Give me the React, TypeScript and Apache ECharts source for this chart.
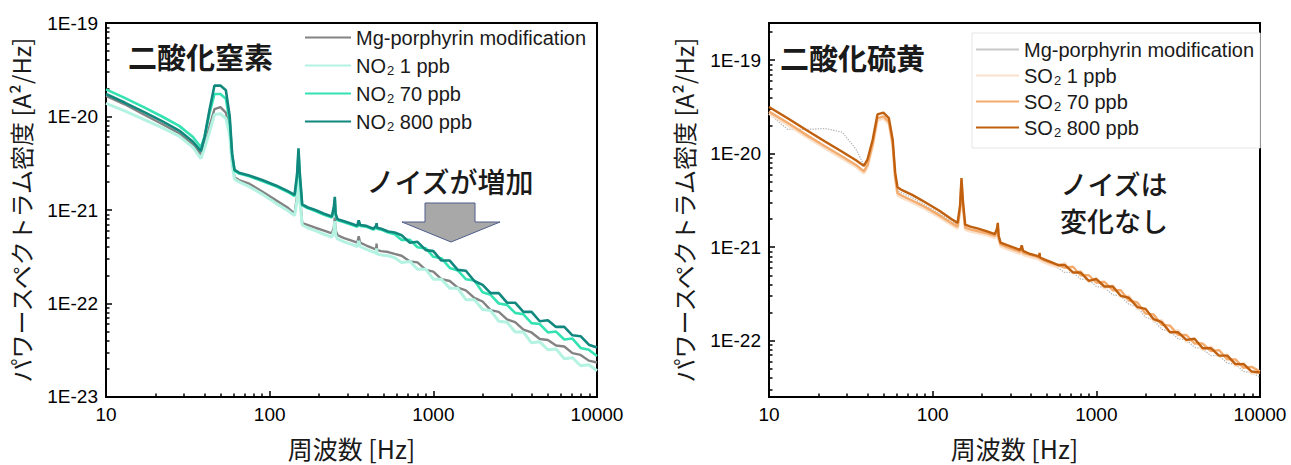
import React, { useEffect, useRef } from 'react';
import * as echarts from 'echarts';

// Frequency grid (Hz), shared by every series
const FREQ_HZ = [
  10, 13, 17, 22, 28, 34, 38, 40, 43, 46,
  50, 54, 57, 59, 61, 65, 75, 90, 110, 130,
  142, 147, 150, 153, 158, 170, 190, 215, 240, 247,
  250, 253, 260, 285, 320, 343, 350, 357, 390, 430,
  447, 450, 453, 480, 530, 580,
  640, 720, 800, 900, 1000, 1120, 1260, 1410, 1580, 1780,
  2000, 2240, 2510, 2820, 3160, 3550, 3980, 4470, 5010, 5620,
  6310, 7080, 7940, 8910, 10000,
];

// ---- Left chart: 二酸化窒素 (PSD, A^2/Hz) ----
const MG_LEFT = [
  1.66e-20, 1.35e-20, 1.05e-20, 8.32e-21, 6.61e-21, 5.01e-21, 3.89e-21, 5.01e-21, 7.94e-21, 1.2e-20,
  1.26e-20, 1.1e-20, 7.08e-21, 3.16e-21, 2.24e-21, 2.09e-21, 1.91e-21, 1.58e-21, 1.26e-21, 1.05e-21,
  9.12e-22, 1.41e-21, 2.63e-21, 1.41e-21, 7.24e-22, 6.92e-22, 6.46e-22, 6.03e-22, 5.62e-22, 6.61e-22,
  8.32e-22, 6.03e-22, 5.37e-22, 5.01e-22, 4.68e-22, 4.47e-22, 5.25e-22, 4.47e-22, 4.17e-22, 3.89e-22,
  3.8e-22, 4.37e-22, 3.72e-22, 3.63e-22, 3.55e-22, 3.39e-22,
  3.24e-22, 2.82e-22, 2.75e-22, 2.29e-22, 2.19e-22, 1.82e-22, 1.74e-22, 1.48e-22, 1.38e-22, 1.15e-22,
  1.05e-22, 8.51e-23, 8.13e-23, 6.76e-23, 6.31e-23, 5.25e-23, 4.9e-23, 4.17e-23, 4.07e-23, 3.55e-23,
  3.47e-23, 2.95e-23, 2.82e-23, 2.45e-23, 2.34e-23,
];
const NO2_1PPB = [
  1.38e-20, 1.15e-20, 9.33e-21, 7.59e-21, 6.17e-21, 4.68e-21, 3.55e-21, 4.57e-21, 6.92e-21, 1.05e-20,
  1.07e-20, 9.55e-21, 6.31e-21, 3.02e-21, 2.14e-21, 2.0e-21, 1.78e-21, 1.48e-21, 1.17e-21, 9.77e-22,
  8.71e-22, 1.26e-21, 2.19e-21, 1.26e-21, 6.92e-22, 6.46e-22, 6.03e-22, 5.5e-22, 5.13e-22, 6.03e-22,
  7.59e-22, 5.37e-22, 4.9e-22, 4.57e-22, 4.27e-22, 4.07e-22, 4.68e-22, 4.07e-22, 3.8e-22, 3.55e-22,
  3.47e-22, 3.89e-22, 3.39e-22, 3.31e-22, 3.24e-22, 3.09e-22,
  2.75e-22, 2.82e-22, 2.32e-22, 2.32e-22, 1.82e-22, 1.82e-22, 1.46e-22, 1.46e-22, 1.1e-22, 1.1e-22,
  8.61e-23, 8.41e-23, 6.46e-23, 6.31e-23, 4.95e-23, 4.95e-23, 3.8e-23, 3.89e-23, 3.2e-23, 3.27e-23,
  2.57e-23, 2.63e-23, 2.16e-23, 2.21e-23, 1.91e-23,
];
const NO2_70PPB = [
  1.95e-20, 1.58e-20, 1.26e-20, 1.0e-20, 7.94e-21, 6.03e-21, 4.68e-21, 6.03e-21, 1.1e-20, 1.74e-20,
  1.74e-20, 1.55e-20, 8.91e-21, 3.8e-21, 2.63e-21, 2.45e-21, 2.29e-21, 2.04e-21, 1.78e-21, 1.55e-21,
  1.41e-21, 2.24e-21, 3.98e-21, 2.19e-21, 1.12e-21, 1.05e-21, 9.77e-22, 8.91e-22, 8.32e-22, 1.05e-21,
  1.29e-21, 8.71e-22, 7.76e-22, 7.41e-22, 6.92e-22, 6.61e-22, 7.41e-22, 6.76e-22, 6.61e-22, 6.17e-22,
  6.46e-22, 6.92e-22, 6.31e-22, 6.17e-22, 5.75e-22, 5.5e-22,
  4.79e-22, 4.79e-22, 4.0e-22, 3.89e-22, 3.16e-22, 3.05e-22, 2.4e-22, 2.26e-22, 1.82e-22, 1.76e-22,
  1.32e-22, 1.24e-22, 1.0e-22, 9.66e-23, 7.94e-23, 7.67e-23, 6.17e-23, 6.03e-23, 4.9e-23, 5.01e-23,
  4.12e-23, 4.22e-23, 3.35e-23, 3.2e-23, 2.75e-23,
];
const NO2_800PPB = [
  1.74e-20, 1.41e-20, 1.12e-20, 8.91e-21, 7.08e-21, 5.37e-21, 4.27e-21, 6.03e-21, 1.2e-20, 2.14e-20,
  2.14e-20, 1.91e-20, 1.0e-20, 3.98e-21, 2.69e-21, 2.51e-21, 2.34e-21, 2.09e-21, 1.82e-21, 1.58e-21,
  1.45e-21, 2.4e-21, 4.57e-21, 2.4e-21, 1.15e-21, 1.07e-21, 1.0e-21, 9.12e-22, 8.51e-22, 1.1e-21,
  1.38e-21, 9.12e-22, 7.94e-22, 7.59e-22, 7.08e-22, 6.76e-22, 7.76e-22, 6.92e-22, 6.76e-22, 6.31e-22,
  6.76e-22, 7.24e-22, 6.46e-22, 6.31e-22, 5.89e-22, 5.75e-22,
  5.37e-22, 4.47e-22, 4.57e-22, 3.72e-22, 3.63e-22, 2.88e-22, 2.88e-22, 2.29e-22, 2.24e-22, 1.74e-22,
  1.58e-22, 1.29e-22, 1.29e-22, 1.02e-22, 1.02e-22, 8.13e-23, 8.13e-23, 6.46e-23, 6.61e-23, 5.62e-23,
  5.62e-23, 4.57e-23, 4.47e-23, 3.63e-23, 3.39e-23,
];

// ---- Right chart: 二酸化硫黄 (PSD, A^2/Hz) ----
const MG_RIGHT = [
  2.69e-20, 1.82e-20, 1.82e-20, 1.86e-20, 1.7e-20, 1.12e-20, 7.59e-21, 7.94e-21, 1.2e-20, 2.24e-20,
  2.4e-20, 2.09e-20, 1.2e-20, 5.62e-21, 3.98e-21, 3.8e-21, 3.39e-21, 2.82e-21, 2.29e-21, 1.91e-21,
  1.7e-21, 2.4e-21, 4.47e-21, 2.63e-21, 1.58e-21, 1.51e-21, 1.45e-21, 1.35e-21, 1.26e-21, 1.41e-21,
  1.58e-21, 1.2e-21, 1.05e-21, 9.77e-22, 9.12e-22, 8.71e-22, 9.55e-22, 8.51e-22, 7.94e-22, 7.59e-22,
  7.41e-22, 7.94e-22, 7.24e-22, 6.92e-22, 6.46e-22, 6.03e-22,
  5.37e-22, 5.37e-22, 4.57e-22, 4.47e-22, 3.8e-22, 3.72e-22, 3.09e-22, 3.02e-22, 2.45e-22, 2.29e-22,
  1.78e-22, 1.66e-22, 1.32e-22, 1.26e-22, 1.05e-22, 1.02e-22, 8.51e-23, 8.13e-23, 6.92e-23, 6.92e-23,
  5.75e-23, 5.62e-23, 4.68e-23, 4.57e-23, 4.07e-23,
];
const SO2_1PPB = [
  2.68e-20, 2.03e-20, 1.5e-20, 1.14e-20, 8.87e-21, 7.21e-21, 6.14e-21, 7.21e-21, 1.2e-20, 2.28e-20,
  2.38e-20, 2.08e-20, 1.2e-20, 5.34e-21, 3.61e-21, 3.37e-21, 3.0e-21, 2.56e-21, 2.08e-21, 1.73e-21,
  1.58e-21, 2.38e-21, 4.76e-21, 2.68e-21, 1.54e-21, 1.47e-21, 1.41e-21, 1.34e-21, 1.25e-21, 1.41e-21,
  1.58e-21, 1.2e-21, 1.02e-21, 9.5e-22, 8.86e-22, 8.46e-22, 9.28e-22, 8.27e-22, 7.9e-22, 7.54e-22,
  7.37e-22, 7.9e-22, 7.21e-22, 6.88e-22, 6.42e-22, 6.14e-22,
  6.76e-22, 5.25e-22, 5.62e-22, 4.27e-22, 4.68e-22, 3.63e-22, 3.89e-22, 2.95e-22, 3.02e-22, 2.19e-22,
  2.19e-22, 1.62e-22, 1.66e-22, 1.23e-22, 1.29e-22, 9.77e-23, 1.05e-22, 7.94e-23, 8.71e-23, 6.76e-23,
  7.08e-23, 5.37e-23, 5.75e-23, 4.47e-23, 4.57e-23,
];
const SO2_70PPB = [
  2.82e-20, 2.14e-20, 1.58e-20, 1.2e-20, 9.33e-21, 7.59e-21, 6.46e-21, 7.59e-21, 1.26e-20, 2.4e-20,
  2.51e-20, 2.19e-20, 1.26e-20, 5.62e-21, 3.8e-21, 3.55e-21, 3.16e-21, 2.69e-21, 2.19e-21, 1.82e-21,
  1.66e-21, 2.51e-21, 5.01e-21, 2.82e-21, 1.62e-21, 1.55e-21, 1.48e-21, 1.41e-21, 1.32e-21, 1.48e-21,
  1.66e-21, 1.26e-21, 1.07e-21, 1.0e-21, 9.33e-22, 8.91e-22, 9.77e-22, 8.71e-22, 8.32e-22, 7.94e-22,
  7.76e-22, 8.32e-22, 7.59e-22, 7.24e-22, 6.76e-22, 6.46e-22,
  6.03e-22, 6.17e-22, 5.01e-22, 5.01e-22, 4.17e-22, 4.27e-22, 3.47e-22, 3.47e-22, 2.69e-22, 2.57e-22,
  1.95e-22, 1.91e-22, 1.48e-22, 1.45e-22, 1.15e-22, 1.15e-22, 9.33e-23, 9.33e-23, 7.76e-23, 7.94e-23,
  6.31e-23, 6.31e-23, 5.13e-23, 5.25e-23, 4.68e-23,
];
const SO2_800PPB = [
  3.16e-20, 2.4e-20, 1.78e-20, 1.35e-20, 1.05e-20, 8.51e-21, 7.41e-21, 8.71e-21, 1.41e-20, 2.63e-20,
  2.75e-20, 2.4e-20, 1.41e-20, 6.31e-21, 4.37e-21, 4.07e-21, 3.63e-21, 3.02e-21, 2.45e-21, 2.0e-21,
  1.82e-21, 2.82e-21, 5.5e-21, 3.16e-21, 1.74e-21, 1.66e-21, 1.58e-21, 1.48e-21, 1.38e-21, 1.58e-21,
  1.82e-21, 1.32e-21, 1.12e-21, 1.05e-21, 9.77e-22, 9.33e-22, 1.05e-21, 9.12e-22, 8.51e-22, 8.13e-22,
  7.94e-22, 8.71e-22, 7.76e-22, 7.41e-22, 6.92e-22, 6.46e-22,
  6.46e-22, 5.37e-22, 5.37e-22, 4.37e-22, 4.57e-22, 3.8e-22, 3.8e-22, 3.02e-22, 2.88e-22, 2.29e-22,
  2.19e-22, 1.7e-22, 1.58e-22, 1.23e-22, 1.23e-22, 1.02e-22, 1.05e-22, 8.32e-23, 8.32e-23, 6.92e-23,
  6.92e-23, 5.62e-23, 5.62e-23, 4.68e-23, 4.57e-23,
];

// Axis tick values
const X_TICKS = [10, 100, 1000, 10000];
const Y_TICKS_LEFT = [1e-23, 1e-22, 1e-21, 1e-20, 1e-19];
const Y_TICKS_RIGHT = [1e-22, 1e-21, 1e-20, 1e-19];

const FONT = "'Liberation Sans', 'Noto Sans CJK JP', sans-serif";
const CJK = "'Noto Sans CJK JP', 'Liberation Sans', sans-serif";

function minorTicks(fromExp: number, toExp: number, lo: number, hi: number) {
  const out: number[] = [];
  for (let e = fromExp; e <= toExp; e++) {
    for (let k = 2; k <= 9; k++) {
      const v = k * Math.pow(10, e);
      if (v > lo * 1.0001 && v < hi * 0.9999) out.push(v);
    }
  }
  return out;
}

const X_MIN = 10, X_MAX = 10000;
const YL_MIN = 1e-23, YL_MAX = 1e-19;
const YR_MIN = 2.5e-23, YR_MAX = 2.5e-19;

function xAxes(gi: number) {
  const common = { type: 'log', logBase: 10, gridIndex: gi, min: X_MIN, max: X_MAX, position: 'bottom', splitLine: { show: false } };
  return [
    {
      ...common,
      axisLine: { lineStyle: { color: '#000', width: 2 } },
      axisTick: { inside: true, length: 6, customValues: X_TICKS, lineStyle: { color: '#000', width: 1.5 } },
      axisLabel: {
        customValues: X_TICKS,
        formatter: (v: number) => String(Math.round(v)),
        fontSize: 19, color: '#000', margin: 8, fontFamily: FONT,
      },
      name: '周波数 [Hz]',
      nameLocation: 'middle',
      nameGap: 38,
      nameTextStyle: { fontSize: 25, color: '#1a1a1a', fontFamily: CJK },
    },
    {
      ...common,
      axisLine: { show: false },
      axisTick: { show: true, inside: true, length: 3.5, customValues: minorTicks(1, 3, X_MIN, X_MAX), lineStyle: { color: '#000', width: 1.5 } },
      axisLabel: { show: false },
    },
  ];
}

function yAxes(gi: number, min: number, max: number, ticks: number[]) {
  const common = { type: 'log', logBase: 10, gridIndex: gi, min, max, position: 'left', splitLine: { show: false } };
  return [
    {
      ...common,
      axisLine: { lineStyle: { color: '#000', width: 2 } },
      axisTick: { inside: true, length: 6, customValues: ticks, lineStyle: { color: '#000', width: 1.5 } },
      axisLabel: {
        customValues: ticks,
        formatter: (v: number) => '1E' + Math.round(Math.log10(v)),
        fontSize: 19, color: '#000', margin: 8, fontFamily: FONT,
      },
      name: 'パワースペクトラム密度 [A²/Hz]',
      nameLocation: 'middle',
      nameGap: 74,
      nameTextStyle: { fontSize: 24, color: '#1a1a1a', fontFamily: CJK },
    },
    {
      ...common,
      axisLine: { show: false },
      axisTick: { show: true, inside: true, length: 3.5, customValues: minorTicks(-23, -19, min, max), lineStyle: { color: '#000', width: 1.5 } },
      axisLabel: { show: false },
    },
  ];
}

function line(name: string, values: number[], color: string, width: number, axisIdx: number, type = 'solid') {
  return {
    type: 'line',
    name,
    xAxisIndex: axisIdx,
    yAxisIndex: axisIdx,
    symbol: 'none',
    showSymbol: false,
    lineStyle: { color, width, type },
    itemStyle: { color },
    data: FREQ_HZ.map((f, i) => [f, values[i]]),
  };
}

const C = {
  mgL: '#838383', no1: '#b4f2e2', no70: '#34e2b2', no800: '#11887e',
  mgR: '#b5b5b5', so1: '#fbe0ca', so70: '#f4ab6e', so800: '#c0600f',
};

const legendRich = {
  t: { fontSize: 20, fontFamily: FONT, color: '#1a1a1a', lineHeight: 23 },
  s: { fontSize: 13, fontFamily: FONT, color: '#1a1a1a', lineHeight: 13, padding: [10, 0, 0, 1] },
};
function legendFormatter(name: string) {
  const m = name.match(/^(NO|SO)2(.*)$/);
  if (m) return `{t|${m[1]}}{s|2}{t|${m[2]}}`;
  return `{t|${name.trim()}}`;
}

export default function App() {
  const ref = useRef<HTMLDivElement>(null);
  useEffect(() => {
    if (!ref.current) return;
    const chart = echarts.init(ref.current, undefined, { renderer: 'svg' });
    const option: any = {
      animation: false,
      backgroundColor: '#fff',
      grid: [
        { left: 106, top: 23, width: 491, height: 379, show: true, borderColor: '#000', borderWidth: 2, backgroundColor: 'transparent' },
        { left: 769, top: 23, width: 491, height: 379, show: true, borderColor: '#000', borderWidth: 2, backgroundColor: 'transparent' },
      ],
      xAxis: [...xAxes(0), ...xAxes(1)],
      yAxis: [...yAxes(0, YL_MIN, YL_MAX, Y_TICKS_LEFT), ...yAxes(1, YR_MIN, YR_MAX, Y_TICKS_RIGHT)],
      legend: [
        {
          orient: 'vertical', left: 305, top: 26, padding: 0, itemGap: 5,
          icon: 'rect', itemWidth: 46, itemHeight: 2, selectedMode: false,
          formatter: legendFormatter,
          textStyle: { fontSize: 20, fontFamily: FONT, color: '#1a1a1a', lineHeight: 23, rich: legendRich },
          data: [
            { name: 'Mg-porphyrin modification', itemStyle: { color: C.mgL } },
            { name: 'NO2 1 ppb', itemStyle: { color: C.no1 } },
            { name: 'NO2 70 ppb', itemStyle: { color: C.no70 } },
            { name: 'NO2 800 ppb', itemStyle: { color: C.no800 } },
          ],
        },
        {
          orient: 'vertical', left: 972, top: 33, padding: [5, 6, 9, 4], itemGap: 3,
          icon: 'rect', itemWidth: 43, itemHeight: 2, selectedMode: false,
          backgroundColor: '#fff', borderColor: '#e6e6e6', borderWidth: 1,
          formatter: legendFormatter,
          textStyle: { fontSize: 20, fontFamily: FONT, color: '#1a1a1a', lineHeight: 23, rich: legendRich },
          data: [
            { name: 'Mg-porphyrin modification ', itemStyle: { color: '#c8c8c8' } },
            { name: 'SO2 1 ppb', itemStyle: { color: C.so1 } },
            { name: 'SO2 70 ppb', itemStyle: { color: C.so70 } },
            { name: 'SO2 800 ppb', itemStyle: { color: C.so800 } },
          ],
        },
      ],
      series: [
        line('Mg-porphyrin modification', MG_LEFT, C.mgL, 2.4, 0),
        line('NO2 1 ppb', NO2_1PPB, C.no1, 3, 0),
        line('NO2 70 ppb', NO2_70PPB, C.no70, 2.6, 0),
        line('NO2 800 ppb', NO2_800PPB, C.no800, 2.6, 0),
        line('Mg-porphyrin modification ', MG_RIGHT, C.mgR, 1.3, 2, 'dotted'),
        line('SO2 1 ppb', SO2_1PPB, C.so1, 2.6, 2),
        line('SO2 70 ppb', SO2_70PPB, C.so70, 2.4, 2),
        line('SO2 800 ppb', SO2_800PPB, C.so800, 2.4, 2),
      ],
      graphic: [
        { type: 'text', x: 128, y: 56, z: 100, style: { text: '二酸化窒素', fontSize: 29, fontWeight: 'bold', fontFamily: CJK, fill: '#1a1a1a', align: 'left', verticalAlign: 'middle' } },
        { type: 'text', x: 780, y: 57, z: 100, style: { text: '二酸化硫黄', fontSize: 29, fontWeight: 'bold', fontFamily: CJK, fill: '#1a1a1a', align: 'left', verticalAlign: 'middle' } },
        { type: 'text', x: 450, y: 181, z: 100, style: { text: 'ノイズが増加', fontSize: 28, fontWeight: 500, fontFamily: CJK, fill: '#1a1a1a', align: 'center', verticalAlign: 'middle' } },
        {
          type: 'polygon', z: 100,
          shape: { points: [[425, 203], [475, 203], [475, 222], [500, 222], [451, 242], [402, 222], [425, 222]] },
          style: { fill: '#a8a8a8', stroke: '#4e5d8c', lineWidth: 1 },
        },
        { type: 'text', x: 1114, y: 183, z: 100, style: { text: 'ノイズは', fontSize: 27, fontWeight: 500, fontFamily: CJK, fill: '#1a1a1a', align: 'center', verticalAlign: 'middle' } },
        { type: 'text', x: 1114, y: 220, z: 100, style: { text: '変化なし', fontSize: 27, fontWeight: 500, fontFamily: CJK, fill: '#1a1a1a', align: 'center', verticalAlign: 'middle' } },
      ],
    };
    chart.setOption(option);
    return () => chart.dispose();
  }, []);
  return <div ref={ref} style={{ position: 'fixed', left: 0, top: 0, width: 1291, height: 465, background: '#fff' }} />;
}
